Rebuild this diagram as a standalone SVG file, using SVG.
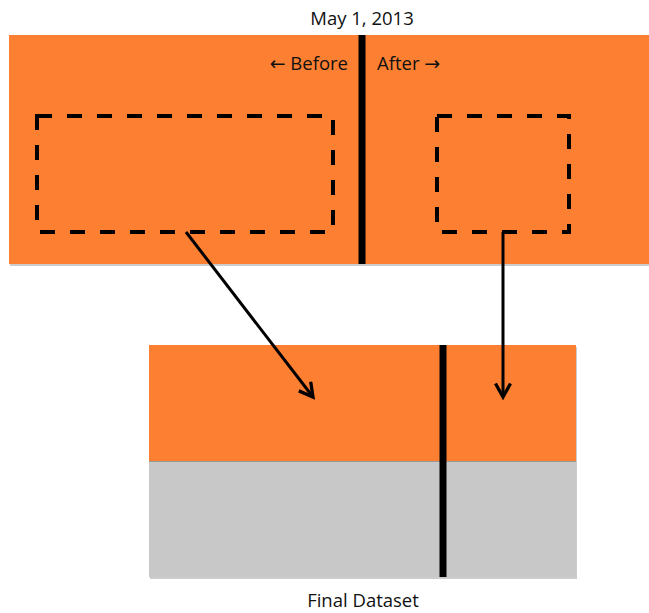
<svg xmlns="http://www.w3.org/2000/svg" width="649" height="613" viewBox="0 0 649 613">
<style>
.orange{fill:#FD7F32}
.gray{fill:#C8C8C8}
.shadow{fill:#9a9a9a;opacity:0.5}
.divider{stroke:#000;stroke-width:7}
.dash{fill:none;stroke:#000;stroke-width:4;stroke-dasharray:15,15}
.conn{fill:none;stroke:#000;stroke-width:3}
.t{font-family:"Open Sans","Liberation Sans",sans-serif;font-size:18.5px;fill:#111}
.ar{font-family:"DejaVu Sans",sans-serif;font-size:19px}
</style>
<defs>
<marker id="arr" viewBox="0 0 12 12" refX="10" refY="6" markerWidth="6" markerHeight="6" orient="auto" markerUnits="strokeWidth">
<path d="M1,1 L10,6 L1,11" fill="none" stroke="#000" stroke-width="2.2"/>
</marker>
</defs>
<g id="timeline">
<rect class="shadow" x="10" y="37" width="645" height="229"/>
<rect class="orange" x="9" y="35" width="645" height="229"/>
<line class="divider" x1="362" y1="35" x2="362" y2="264"/>
<text class="t" x="362" y="25" text-anchor="middle">May 1, 2013</text>
<text class="t" x="348" y="70" text-anchor="end"><tspan class="ar">←</tspan> Before</text>
<text class="t" x="377" y="70">After <tspan class="ar">→</tspan></text>
</g>
<g id="before-selection">
<rect class="dash" x="37" y="116" width="296" height="116"/>
</g>
<g id="after-selection">
<rect class="dash" x="437" y="116" width="132" height="116"/>
</g>
<g id="final-dataset">
<rect class="shadow" x="150" y="347" width="427" height="232"/>
<rect class="orange" x="149" y="345" width="427" height="116"/>
<rect class="gray" x="149" y="461" width="427" height="116"/>
<line x1="149" y1="461.5" x2="576" y2="461.5" stroke="#999" stroke-width="1"/>
<line class="divider" x1="443" y1="345" x2="443" y2="577"/>
<text class="t" x="363" y="607" text-anchor="middle">Final Dataset</text>
</g>
<g id="connectors">
<line class="conn" x1="186" y1="232" x2="313" y2="397" marker-end="url(#arr)"/>
<line class="conn" x1="503" y1="232" x2="503" y2="397" marker-end="url(#arr)"/>
</g>
</svg>
